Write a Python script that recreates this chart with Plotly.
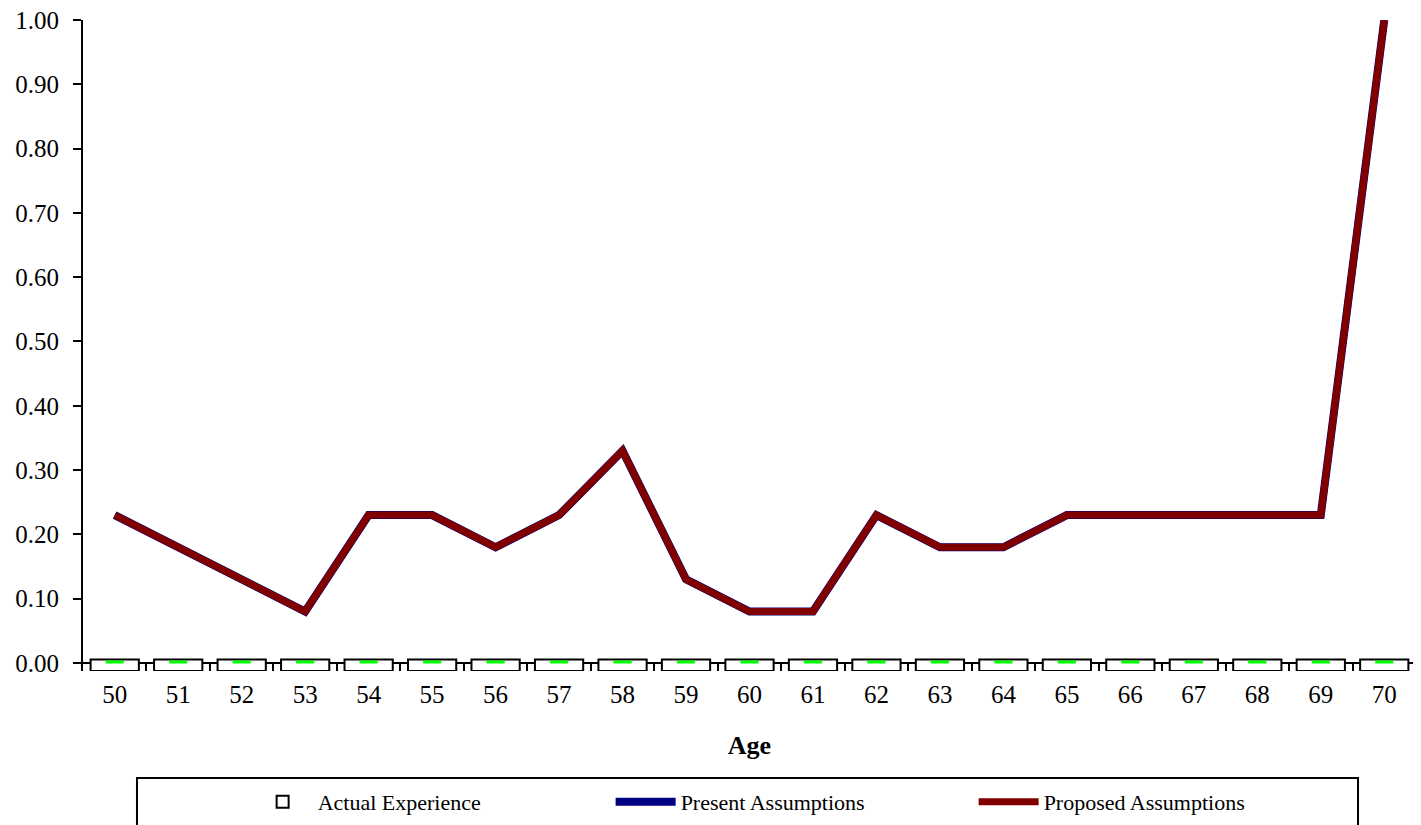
import plotly.graph_objects as go

ages = [str(a) for a in range(50, 71)]
actual = [0.0] * 21
present = [0.23, 0.18, 0.13, 0.08, 0.23, 0.23, 0.18, 0.23, 0.33, 0.13, 0.08,
           0.08, 0.23, 0.18, 0.18, 0.23, 0.23, 0.23, 0.23, 0.23, 1.00]
proposed = [0.23, 0.18, 0.13, 0.08, 0.23, 0.23, 0.18, 0.23, 0.33, 0.13, 0.08,
            0.08, 0.23, 0.18, 0.18, 0.23, 0.23, 0.23, 0.23, 0.23, 1.00]
y_ticks = [0.0, 0.1, 0.2, 0.3, 0.4, 0.5, 0.6, 0.7, 0.8, 0.9, 1.0]

FONT = "Liberation Serif"
box_lo, box_hi = -0.0125, 0.0055

fig = go.Figure()
fig.add_trace(go.Bar(
    x=ages, y=[v + box_hi - box_lo for v in actual], base=[v + box_lo for v in actual],
    width=0.76, name="Actual Experience",
    marker=dict(color="white", line=dict(color="black", width=2)),
))
fig.add_trace(go.Scatter(
    x=ages, y=[v + 0.0015 for v in actual], mode="markers", showlegend=False,
    marker=dict(symbol="line-ew", size=13, line=dict(color="#00ff00", width=3)),
    hoverinfo="skip",
))
fig.add_trace(go.Scatter(
    x=ages, y=present, mode="lines", name="Present Assumptions",
    line=dict(color="#000080", width=8),
))
fig.add_trace(go.Scatter(
    x=ages, y=proposed, mode="lines", name="Proposed Assumptions",
    line=dict(color="#800000", width=7),
))

# legend frame
fig.add_shape(type="rect", xref="paper", yref="paper",
              x0=0.0405, x1=0.9565, y0=-0.26, y1=-0.1644,
              line=dict(color="black", width=2), fillcolor="rgba(0,0,0,0)")

fig.update_layout(
    width=1413, height=817,
    margin=dict(l=75, r=5, t=12, b=154, autoexpand=False),
    paper_bgcolor="white", plot_bgcolor="white",
    font=dict(family=FONT, size=25, color="black"),
    showlegend=True,
    legend=dict(
        orientation="h", x=0.1235, xanchor="left", y=-0.2012, yanchor="middle",
        entrywidth=288, entrywidthmode="pixels", itemwidth=60,
        borderwidth=0, bgcolor="rgba(0,0,0,0)",
        font=dict(family=FONT, size=22),
    ),
    bargap=0.24,
)
fig.update_xaxes(
    type="category", range=[-0.5, 20.5],
    showline=False, showgrid=False, zeroline=False,
    ticks="inside", tickson="boundaries", ticklen=7, tickwidth=2, tickcolor="black",
    ticklabelstandoff=6,
    title=dict(text="<b>Age</b>", font=dict(family=FONT, size=26), standoff=28),
)
fig.update_yaxes(
    range=[box_lo, 1.0], tickvals=y_ticks, tickformat=".2f",
    showline=True, linecolor="black", linewidth=2,
    ticks="outside", ticklen=8, tickwidth=2, tickcolor="black",
    showgrid=False, zeroline=True, zerolinecolor="black", zerolinewidth=2,
    ticklabelstandoff=9, ticklabeloverflow="allow",
)

fig.write_html("out.html")
